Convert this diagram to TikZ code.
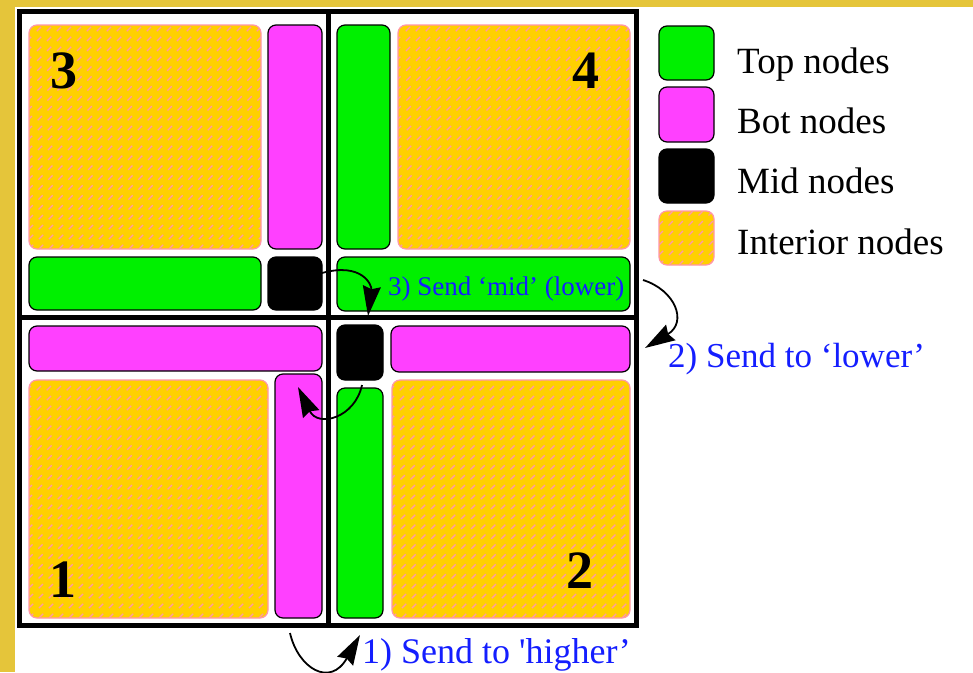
\documentclass[tikz,border=0pt]{standalone}
\usepackage{fontspec}
\setmainfont{Liberation Serif}
\usetikzlibrary{arrows.meta,calc}
\definecolor{goldbg}{RGB}{229,197,58}
\definecolor{topgreen}{RGB}{0,240,0}
\definecolor{botmag}{RGB}{255,64,255}
\definecolor{intorange}{RGB}{255,208,0}
\definecolor{hatchpink}{RGB}{255,150,170}
\definecolor{labelblue}{RGB}{20,30,255}
\tikzset{
  nodebox/.style={draw=black, line width=1.2pt, rounded corners=8pt, inner sep=0pt, outer sep=0pt, anchor=north west},
  topbox/.style={nodebox, fill=topgreen},
  botbox/.style={nodebox, fill=botmag},
  midbox/.style={nodebox, fill=black},
  intbox/.style={nodebox, draw=hatchpink, fill=intorange, path picture={
     \foreach \k in {-260,-250,...,260}
       \draw[hatchpink, line width=1.3pt, dash pattern=on 6pt off 8pt, rounded corners=0pt]
         ($(path picture bounding box.south west)+(\k pt,0pt)$) -- ++(270pt,270pt);}},
  legtext/.style={anchor=base west, inner sep=0pt, font=\fontsize{37}{40}\selectfont},
  numlabel/.style={anchor=base west, inner sep=0pt, font=\fontsize{54}{54}\selectfont\bfseries},
  bluelabel/.style={anchor=base west, inner sep=0pt, text=labelblue},
  sendarrow/.style={draw=black, line width=1.8pt, -{Stealth[length=30pt,width=18pt,inset=3pt]}},
  framebox/.style={draw=black, line width=5.5pt, inner sep=0pt, outer sep=0pt, anchor=north west},
  divider/.style={draw=black, line width=5pt}
}
\begin{document}
\begin{tikzpicture}[x=1pt, y=-1pt]
\useasboundingbox (0,0) rectangle (973,672);
\fill[goldbg] (0,0) rectangle (973,672);
\fill[white] (15,7) rectangle (973,672);
% frame and dividers
\node[framebox, minimum width=617pt, minimum height=614pt] (frame) at (19.5,11.5) {};
\coordinate (dvtop) at (328.3,11.5);
\coordinate (dvbot) at (328.3,625.5);
\coordinate (dhleft) at (19.5,317.8);
\coordinate (dhright) at (636.5,317.8);
\draw[divider] (dvtop) -- (dvbot);
\draw[divider] (dhleft) -- (dhright);
% quadrant 3 (top left)
\node[intbox, minimum width=232pt, minimum height=224pt] (int3) at (29,25) {};
\node[botbox, minimum width=54pt, minimum height=224pt] (bot3) at (268,25) {};
\node[topbox, minimum width=232pt, minimum height=53pt] (top3) at (29,257) {};
\node[midbox, minimum width=54pt, minimum height=53pt] (mid3) at (268,257) {};
% quadrant 4 (top right)
\node[topbox, minimum width=53pt, minimum height=224pt] (top4v) at (337,25) {};
\node[intbox, minimum width=232pt, minimum height=224pt] (int4) at (398,25) {};
\node[topbox, minimum width=293pt, minimum height=54pt] (top4h) at (337,257) {};
% quadrant 1 (bottom left)
\node[botbox, minimum width=293pt, minimum height=45pt] (bot1h) at (29,326) {};
\node[botbox, minimum width=47pt, minimum height=244pt] (bot1v) at (275,374) {};
\node[intbox, minimum width=239pt, minimum height=238pt] (int1) at (29,380) {};
% quadrant 2 (bottom right)
\node[midbox, minimum width=46pt, minimum height=55pt] (mid2) at (337,325) {};
\node[botbox, minimum width=239pt, minimum height=46pt] (bot2h) at (391,326) {};
\node[topbox, minimum width=46pt, minimum height=230pt] (top2v) at (337,388) {};
\node[intbox, minimum width=238pt, minimum height=238pt] (int2) at (392,380) {};
% quadrant numbers
\node[numlabel] (n3) at (50,88) {3};
\node[numlabel] (n4) at (572,88) {4};
\node[numlabel] (n1) at (49,597) {1};
\node[numlabel] (n2) at (566,588) {2};
% legend
\node[topbox, minimum width=55pt, minimum height=54pt] (legtop) at (659,26) {};
\node[botbox, minimum width=55pt, minimum height=55pt] (legbot) at (659,87) {};
\node[midbox, minimum width=55pt, minimum height=54pt] (legmid) at (659,149) {};
\node[intbox, minimum width=55pt, minimum height=54pt] (legint) at (659,211) {};
\node[legtext] (ltop) at (737,73) {Top nodes};
\node[legtext] (lbot) at (737,133) {Bot nodes};
\node[legtext] (lmid) at (737,193) {Mid nodes};
\node[legtext] (lint) at (737,254) {Interior nodes};
% labels
\node[bluelabel, font=\fontsize{27}{30}\selectfont] (lab3) at (388,295) {3) Send ‘mid’ (lower)};
\node[bluelabel, font=\fontsize{35}{38}\selectfont] (lab2) at (668,367) {2) Send to ‘lower’};
\node[bluelabel, font=\fontsize{36}{40}\selectfont] (lab1) at (362,663) {1) Send to \textquotesingle higher’};
% arrows
\coordinate (a3s) at (322,273);
\coordinate (a3e) at (368,316);
\draw[sendarrow] (a3s) .. controls (362,262) and (372,285) .. (a3e);
\coordinate (a2s) at (643,280);
\coordinate (a2e) at (645,348);
\draw[sendarrow] (a2s) .. controls (675,290) and (688,322) .. (a2e);
\coordinate (a1s) at (290,633);
\coordinate (a1e) at (360,635);
\draw[sendarrow] (a1s) .. controls (298,668) and (330,688) .. (a1e);
\coordinate (aqs) at (362,385);
\coordinate (aqe) at (298,387);
\draw[sendarrow] (aqs) .. controls (355,418) and (318,428) .. (aqe);
\end{tikzpicture}
\end{document}
